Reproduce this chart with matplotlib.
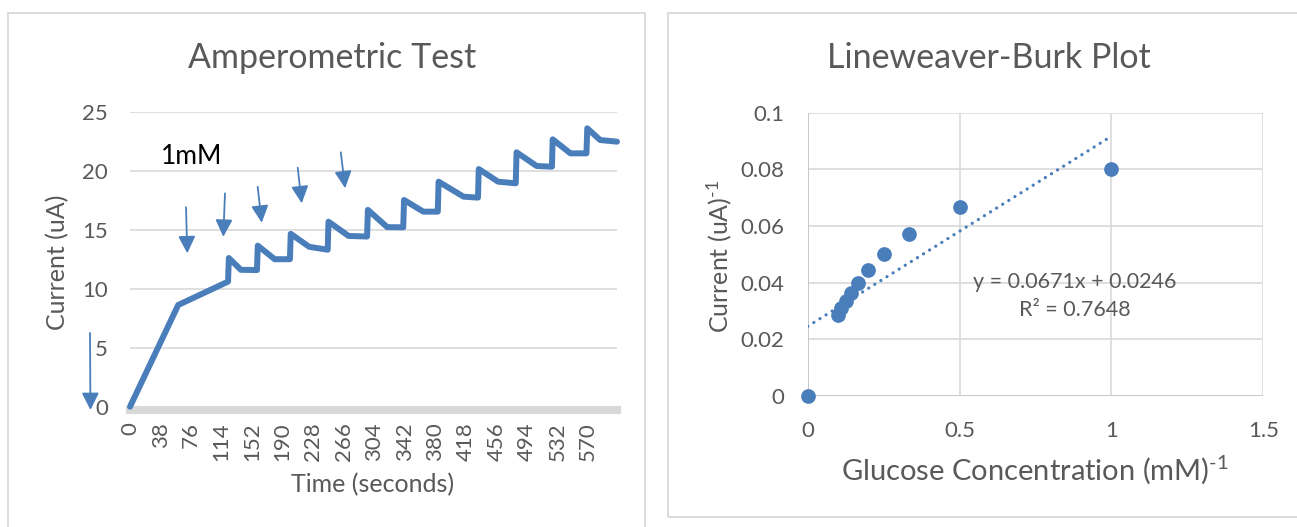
import matplotlib
matplotlib.use("Agg")
import matplotlib.pyplot as plt
from matplotlib.patches import Rectangle
import numpy as np

plt.rcParams['font.family'] = ['Lato', 'DejaVu Sans']
plt.rcParams['mathtext.fontset'] = 'custom'
plt.rcParams['mathtext.rm'] = 'Lato'
plt.rcParams['mathtext.it'] = 'Lato:italic'
plt.rcParams['mathtext.bf'] = 'Lato:bold'

# ---- amperometric trace (time in s, current in uA) ----
time_s = [0, 60, 122, 123, 138, 158, 159, 180, 199, 200, 223, 246, 247, 272,
          295, 296, 320, 340, 341, 365, 383, 384, 415, 433, 434, 458, 480,
          481, 506, 525, 526, 548, 568, 569, 585, 606]
current_ua = [0, 8.62, 10.6, 12.6, 11.6, 11.58, 13.65, 12.5, 12.5, 14.65,
              13.55, 13.3, 15.68, 14.47, 14.42, 16.68, 15.22, 15.2, 17.52,
              16.53, 16.53, 19.07, 17.8, 17.72, 20.14, 19.07, 18.93, 21.56,
              20.4, 20.34, 22.66, 21.47, 21.47, 23.59, 22.6, 22.46]
time_ticks = list(range(0, 571, 38))
current_ticks = [0, 5, 10, 15, 20, 25]

# injection arrows: (tail_t, tail_I, tip_t, tip_I)
injection_arrows = [
    (69.7, 16.9, 71.3, 13.0),
    (118.2, 18.08, 116.1, 14.4),
    (158.9, 18.64, 163.9, 15.59),
    (208.7, 20.25, 213.7, 17.24),
    (262.3, 21.56, 267.7, 18.51),
    (-49.8, 6.25, -49.2, -0.28),
]

# ---- Lineweaver-Burk data ----
inv_conc = [0, 1.0, 0.5, 0.333, 0.25, 0.2, 0.167, 0.143, 0.125, 0.111, 0.1]
inv_current = [0, 0.080, 0.0667, 0.0572, 0.0500, 0.0446, 0.0400, 0.0364,
               0.0335, 0.0310, 0.0285]
fit_slope = 0.0671
fit_intercept = 0.0246
fit_r2 = 0.7648
lb_xticks = [0, 0.5, 1, 1.5]
lb_yticks = [0, 0.02, 0.04, 0.06, 0.08, 0.1]

BLUE = '#4a7ebb'
GREY_TXT = '#595959'
GRID = '#d9d9d9'

W, H, DPI = 1297, 527, 100
fig = plt.figure(figsize=(W / DPI, H / DPI), dpi=DPI)
fig.patch.set_facecolor('white')


def box(x0, y0, x1, y1):
    """Figure-fraction rectangle from pixel edges measured from the top-left."""
    return [x0 / W, 1 - y1 / H, (x1 - x0) / W, (y1 - y0) / H]


# chart frames
fig.add_artist(Rectangle((8 / W, 1 - 540 / H), (645 - 8) / W, (540 - 13) / H,
                         transform=fig.transFigure, fill=False,
                         edgecolor=GRID, lw=1.3))
fig.add_artist(Rectangle((668 / W, 1 - 517 / H), (1315 - 668) / W, (517 - 13) / H,
                         transform=fig.transFigure, fill=False,
                         edgecolor=GRID, lw=1.3))

# ================= Amperometric Test =================
ax1 = fig.add_axes(box(130, 111.7, 617, 406.7))
ax1.set_xlim(0, 606)
ax1.set_ylim(0, 25)
for s in ax1.spines.values():
    s.set_visible(False)
ax1.set_yticks(current_ticks)
ax1.set_xticks(time_ticks)
ax1.set_xticklabels([str(t) for t in time_ticks], rotation=90)
ax1.tick_params(axis='both', length=0, labelsize=16, labelcolor=GREY_TXT)
ax1.tick_params(axis='y', pad=16)
ax1.tick_params(axis='x', pad=11)
ax1.grid(axis='y', color=GRID, lw=1.2)
ax1.set_axisbelow(True)
ax1.axhline(-0.28, color=GRID, lw=5.8, clip_on=False, zorder=1)
ax1.plot(time_s, current_ua, color=BLUE, lw=4.3, solid_joinstyle='round',
         solid_capstyle='round', clip_on=False, zorder=3)

for t0, i0, t1, i1 in injection_arrows:
    ax1.annotate('', xy=(t1, i1), xytext=(t0, i0), annotation_clip=False,
                 arrowprops=dict(arrowstyle='-|>,head_length=0.4,head_width=0.2',
                                 color=BLUE, lw=1.3, mutation_scale=26,
                                 shrinkA=0, shrinkB=0))
ax1.text(192 / W, 1 - 157 / H, '1mM', transform=fig.transFigure,
         ha='center', va='center', fontsize=19, color='black')

fig.text(332 / W, 1 - 58 / H, 'Amperometric Test', ha='center', va='center',
         fontsize=24.5, color=GREY_TXT)
fig.text(58 / W, 1 - 262 / H, 'Current (uA)', ha='center', va='center',
         rotation=90, fontsize=18, color=GREY_TXT)
fig.text(373 / W, 1 - 485 / H, 'Time (seconds)', ha='center', va='center',
         fontsize=18, color=GREY_TXT)

# ================= Lineweaver-Burk Plot =================
ax2 = fig.add_axes(box(807.7, 112.7, 1263.3, 396))
ax2.set_xlim(0, 1.5)
ax2.set_ylim(0, 0.1)
for s in ax2.spines.values():
    s.set_visible(False)
ax2.set_xticks(lb_xticks)
ax2.set_xticklabels(['0', '0.5', '1', '1.5'])
ax2.set_yticks(lb_yticks)
ax2.set_yticklabels(['0', '0.02', '0.04', '0.06', '0.08', '0.1'])
ax2.tick_params(axis='both', length=0, labelsize=16, labelcolor=GREY_TXT)
ax2.tick_params(axis='y', pad=17)
ax2.tick_params(axis='x', pad=18)
ax2.grid(True, color=GRID, lw=1.2)
ax2.set_axisbelow(True)
ax2.axhline(0, color='#c6c6c6', lw=1.3, zorder=1)
ax2.axvline(0, color='#c6c6c6', lw=1.3, zorder=1)

fit_x = np.array([0.0, 1.0])
ax2.plot(fit_x, fit_slope * fit_x + fit_intercept, color=BLUE, lw=2.3,
         linestyle=(0, (0.05, 2.2)), dash_capstyle='round', zorder=2)
ax2.plot(inv_conc, inv_current, linestyle='none', marker='o', ms=10.6,
         color=BLUE, markeredgewidth=0, clip_on=False, zorder=3)

fig.text(1075 / W, 1 - 282 / H,
         f'y = {fit_slope:.4f}x + {fit_intercept:.4f}', ha='center',
         va='center', fontsize=15.5, color=GREY_TXT)
fig.text(1075 / W, 1 - 310 / H, f'R² = {fit_r2:.4f}', ha='center',
         va='center', fontsize=15.5, color=GREY_TXT)

fig.text(989 / W, 1 - 58 / H, 'Lineweaver-Burk Plot', ha='center',
         va='center', fontsize=24.5, color=GREY_TXT)
fig.text(719 / W, 1 - 256 / H, r'Current (uA)$^{\text{-1}}$', ha='center',
         va='center', rotation=90, fontsize=18, color=GREY_TXT)
fig.text(1035 / W, 1 - 470 / H, r'Glucose Concentration (mM)$^{\text{-1}}$',
         ha='center', va='center', fontsize=21, color=GREY_TXT)

fig.savefig('out.png', dpi=DPI, facecolor='white')
